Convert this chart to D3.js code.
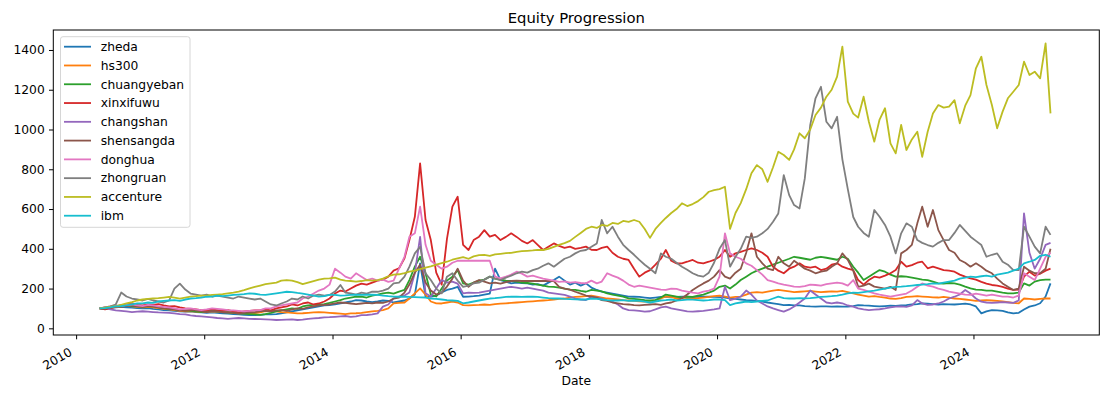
<!DOCTYPE html>
<html lang="en">
<head>
<meta charset="utf-8">
<title>Equity Progression</title>
<style>
  body { margin: 0; background: white; }
  svg { font-family: "DejaVu Sans", sans-serif; display: block; }
</style>
<script src="https://cdn.jsdelivr.net/npm/d3@7"></script>
</head>
<body>
<script>
// monthly values, May 2010 .. Mar 2025 (one row per year)
const seriesNames = ["zheda", "hs300", "chuangyeban", "xinxifuwu", "changshan",
                     "shensangda", "donghua", "zhongruan", "accenture", "ibm"]
const colors = ["#1f77b4", "#ff7f0e", "#2ca02c", "#d62728", "#9467bd",
                "#8c564b", "#e377c2", "#7f7f7f", "#bcbd22", "#17becf"]

const zheda = [
  100, 98, 102, 105, 108, 106, 104, 102,
  100, 102, 98, 95, 92, 90, 88, 85, 84, 86, 82, 80,
  78, 80, 78, 75, 74, 72, 70, 68, 67, 66, 68, 70,
  70, 72, 75, 80, 85, 90, 95, 100, 105, 110, 115, 117,
  120, 126, 130, 135, 142, 140, 135, 132, 135, 140, 138, 130,
  135, 140, 150, 170, 327, 159, 160, 165, 180, 193, 200, 209,
  159, 160, 162, 165, 170, 175, 300, 243, 235, 226, 230, 228,
  226, 220, 222, 215, 230, 243, 260, 240, 220, 230, 215, 226,
  205, 193, 185, 180, 175, 170, 165, 160, 159, 158, 155, 152,
  155, 158, 160, 159, 158, 160, 159, 157, 158, 159, 160, 158,
  157, 155, 151, 148, 145, 142, 140, 138, 135, 130, 126, 122,
  117, 118, 116, 115, 112, 110, 109, 110, 110, 109, 110, 109,
  109, 112, 117, 115, 114, 112, 110, 112, 114, 113, 115, 117,
  120, 122, 126, 124, 122, 120, 122, 121, 120, 122, 124, 120,
  110, 75, 85, 92, 90, 88, 80, 75, 78, 95, 109, 115,
  126, 160, 226
]
const hs300 = [
  100, 98, 102, 108, 110, 115, 110, 108,
  105, 108, 106, 102, 98, 95, 92, 88, 85, 86, 84, 82,
  84, 86, 84, 82, 80, 78, 76, 75, 74, 76, 80, 86,
  88, 86, 82, 80, 78, 75, 76, 78, 80, 82, 80, 78,
  76, 74, 72, 75, 76, 78, 82, 85, 88, 92, 100, 126,
  128, 130, 150, 176, 201, 170, 135, 126, 125, 130, 134, 130,
  117, 115, 117, 118, 120, 118, 122, 124, 126, 128, 130, 132,
  134, 136, 138, 140, 142, 145, 148, 150, 155, 158, 160, 162,
  165, 160, 155, 150, 148, 145, 142, 140, 138, 136, 134, 138,
  142, 150, 160, 158, 150, 155, 152, 150, 152, 155, 158, 162,
  165, 160, 155, 158, 160, 170, 180, 182, 180, 185, 190, 193,
  190, 186, 182, 184, 186, 188, 185, 182, 184, 186, 185, 188,
  182, 176, 170, 165, 160, 162, 158, 155, 150, 148, 152, 158,
  160, 162, 160, 158, 156, 155, 158, 155, 150, 148, 145, 142,
  138, 140, 142, 140, 138, 135, 132, 128, 126, 150, 148, 145,
  148, 150, 150
]
const chuangyeban = [
  100, 102, 108, 112, 115, 118, 112, 110,
  108, 112, 110, 105, 100, 98, 95, 92, 90, 88, 85, 82,
  85, 88, 86, 82, 80, 78, 75, 74, 72, 70, 68, 72,
  78, 85, 90, 95, 100, 98, 110, 115, 118, 120, 122, 128,
  135, 142, 150, 155, 159, 160, 155, 165, 170, 176, 180, 175,
  185, 193, 243, 310, 360, 277, 170, 160, 200, 240, 260, 293,
  226, 220, 230, 240, 245, 260, 250, 245, 240, 238, 235, 230,
  228, 225, 220, 215, 210, 209, 205, 200, 195, 193, 188, 184,
  193, 190, 186, 176, 170, 165, 160, 151, 148, 145, 142, 140,
  142, 155, 170, 165, 160, 155, 160, 158, 165, 170, 180, 190,
  209, 215, 200, 220, 243, 260, 277, 290, 300, 310, 320, 330,
  340, 350, 360, 355, 350, 345, 355, 360, 355, 350, 345, 360,
  350, 310, 280, 243, 260, 277, 293, 285, 270, 260, 262, 260,
  255, 250, 245, 243, 235, 226, 225, 228, 226, 220, 210, 201,
  195, 193, 190, 190, 185, 180, 176, 176, 180, 226, 215, 235,
  243, 245, 245
]
const xinxifuwu = [
  100, 95, 100, 110, 115, 120, 125, 118,
  115, 120, 118, 122, 115, 110, 112, 105, 100, 98, 95, 92,
  90, 95, 92, 88, 92, 85, 80, 85, 88, 90, 92, 95,
  90, 100, 105, 110, 120, 115, 125, 130, 120, 125, 135, 150,
  175, 190, 185, 200, 215, 225, 220, 230, 240, 245, 260, 290,
  302, 352, 444, 561, 830, 545, 444, 280, 220, 450, 612, 662,
  420, 394, 444, 461, 494, 461, 470, 444, 460, 478, 460, 440,
  427, 444, 420, 394, 410, 427, 415, 405, 411, 400, 405, 411,
  395, 394, 405, 411, 380, 360, 350, 344, 300, 260, 280, 293,
  320, 350, 394, 340, 327, 327, 335, 344, 330, 327, 335, 344,
  360, 394, 360, 377, 385, 394, 402, 394, 380, 360, 310, 290,
  277, 300, 310, 327, 310, 305, 310, 293, 300, 320, 327, 310,
  300, 293, 243, 220, 243, 260, 255, 265, 277, 293, 335, 310,
  318, 330, 335, 302, 310, 302, 293, 290, 285, 270, 260, 251,
  245, 234, 225, 218, 215, 209, 200, 193, 195, 260, 285, 265,
  275, 290, 300
]
const changshan = [
  100, 105, 95, 90, 88, 85, 82, 84,
  86, 84, 82, 80, 79, 78, 75, 72, 70, 65, 62, 60,
  58, 55, 52, 50, 48, 50, 52, 50, 48, 47, 46, 45,
  44, 42, 43, 44, 45, 42, 44, 48, 50, 52, 55, 56,
  58, 60, 62, 58, 60, 66, 67, 70, 75, 109, 120, 150,
  159, 165, 180, 277, 460, 176, 160, 200, 243, 230, 235, 225,
  176, 180, 178, 180, 185, 190, 195, 200, 205, 209, 205, 200,
  205, 200, 195, 190, 180, 176, 172, 168, 160, 150, 145, 142,
  159, 155, 150, 140, 134, 120, 100, 92, 90, 88, 84, 86,
  95, 105, 109, 100, 95, 90, 85, 84, 86, 88, 92, 95,
  100, 209, 142, 150, 160, 190, 170, 140, 125, 110, 100, 92,
  84, 95, 110, 130, 150, 190, 170, 150, 130, 126, 130, 126,
  115, 109, 100, 95, 92, 94, 96, 100, 105, 109, 110, 108,
  115, 142, 125, 118, 120, 125, 135, 150, 159, 170, 193, 175,
  150, 134, 130, 128, 130, 132, 130, 128, 140, 578, 380, 300,
  350, 420, 430
]
const shensangda = [
  100, 98, 105, 110, 108, 112, 115, 110,
  108, 112, 110, 105, 100, 98, 95, 90, 88, 92, 90, 85,
  82, 88, 85, 80, 82, 78, 75, 78, 80, 82, 85, 88,
  85, 90, 92, 88, 95, 100, 98, 105, 110, 115, 118, 120,
  125, 130, 128, 125, 122, 125, 128, 126, 130, 128, 135, 150,
  155, 180, 220, 280, 320, 230, 190, 170, 180, 210, 250, 300,
  240, 209, 230, 243, 235, 226, 230, 225, 232, 238, 240, 238,
  238, 238, 238, 238, 238, 238, 209, 200, 195, 184, 175, 165,
  159, 155, 142, 138, 130, 126, 122, 120, 117, 115, 118, 120,
  122, 118, 125, 130, 140, 151, 170, 193, 210, 226, 240, 260,
  293, 260, 250, 280, 300, 380, 478, 360, 327, 300, 293, 360,
  327, 310, 340, 320, 300, 290, 277, 285, 290, 310, 327, 377,
  344, 290, 209, 215, 225, 210, 205, 200, 209, 193, 377, 394,
  420, 528, 612, 511, 595, 494, 444, 394, 380, 344, 330, 310,
  327, 310, 290, 277, 250, 226, 209, 193, 200, 310, 290, 277,
  277, 300, 400
]
const donghua = [
  100, 105, 110, 115, 112, 118, 120, 115,
  112, 118, 115, 110, 108, 105, 100, 95, 98, 100, 95, 92,
  95, 100, 98, 95, 92, 90, 88, 85, 88, 90, 92, 100,
  100, 110, 115, 120, 125, 130, 150, 160, 175, 190, 200, 220,
  300, 280, 260, 250, 277, 260, 243, 250, 240, 245, 234, 240,
  300, 360, 461, 478, 612, 420, 340, 320, 300, 310, 330, 340,
  340, 340, 340, 340, 340, 340, 260, 251, 260, 270, 285, 275,
  260, 265, 258, 250, 245, 240, 234, 236, 230, 232, 228, 226,
  240, 226, 235, 277, 265, 255, 240, 220, 209, 215, 210, 205,
  200, 195, 193, 200, 198, 190, 185, 180, 176, 185, 190, 200,
  260, 478, 377, 360, 350, 327, 315, 293, 270, 243, 235, 226,
  220, 215, 210, 209, 212, 220, 218, 215, 222, 226, 230, 226,
  215, 243, 200, 193, 185, 176, 170, 165, 160, 165, 170, 175,
  190, 209, 226, 215, 210, 200, 193, 185, 180, 175, 170, 168,
  175, 170, 165, 170, 165, 160, 160, 155, 165, 277, 260, 243,
  300, 360, 380
]
const zhongruan = [
  100, 105, 110, 120, 180, 160, 150, 145,
  140, 148, 140, 135, 130, 140, 200, 225, 195, 175, 170, 165,
  170, 160, 165, 160, 155, 150, 160, 155, 150, 145, 150, 135,
  120, 115, 125, 135, 150, 145, 160, 150, 165, 170, 165, 168,
  185, 218, 180, 176, 170, 180, 175, 185, 184, 190, 200, 226,
  230, 260, 310, 377, 410, 277, 243, 200, 176, 260, 277, 240,
  209, 215, 226, 230, 245, 260, 250, 243, 255, 265, 277, 285,
  280, 293, 300, 315, 327, 310, 330, 350, 360, 377, 390, 394,
  410, 427, 545, 478, 511, 461, 420, 394, 370, 344, 320, 300,
  277, 377, 360, 350, 330, 310, 295, 277, 265, 260, 280, 330,
  400, 444, 310, 360, 400, 461, 455, 461, 478, 500, 536, 578,
  771, 670, 620, 603, 754, 1023, 1157, 1215, 1039, 1006, 1064, 850,
  700, 560, 511, 480, 461, 595, 561, 520, 461, 377, 478, 528,
  511, 444, 430, 419, 411, 430, 444, 444, 480, 520, 490, 461,
  440, 419, 360, 370, 377, 335, 320, 293, 293, 511, 461, 411,
  377, 511, 470
]
const accenture = [
  100, 104, 108, 112, 118, 125, 132, 140,
  145, 148, 150, 152, 155, 158, 155, 150, 155, 160, 162, 165,
  165, 168, 170, 172, 176, 180, 185, 192, 201, 208, 215, 222,
  226, 230, 240, 243, 240, 232, 222, 230, 238, 245, 250, 251,
  255, 245, 240, 238, 235, 238, 242, 240, 243, 250, 262, 270,
  272, 278, 285, 290, 298, 305, 312, 320, 328, 335, 345, 352,
  358, 350, 362, 368, 369, 365, 372, 375, 378, 380, 385, 388,
  390, 392, 395, 394, 400, 410, 420, 429, 440, 460, 480, 500,
  511, 505, 520, 515, 530, 525, 540, 535, 545, 536, 500, 455,
  500, 530, 555, 580, 600, 629, 615, 625, 640, 660, 687, 695,
  700, 712, 500, 580, 630, 700, 780, 821, 800, 737, 810, 888,
  872, 847, 900, 981, 956, 1000, 1073, 1110, 1165, 1200, 1266, 1417,
  1140, 1080, 1060, 1165, 1039, 939, 1050, 1107, 930, 880, 1023, 897,
  950, 989, 863, 989, 1080, 1123, 1110, 1115, 1148, 1031, 1120, 1173,
  1308, 1366, 1224, 1123, 1006, 1090, 1157, 1190, 1224, 1341, 1274, 1291,
  1257, 1433, 1081
]
const ibm = [
  100, 102, 105, 110, 112, 115, 120, 125,
  126, 130, 128, 135, 138, 140, 142, 138, 145, 150, 152, 155,
  159, 160, 165, 162, 165, 168, 170, 172, 176, 174, 170, 168,
  172, 176, 180, 184, 182, 178, 175, 170, 165, 160, 162, 168,
  168, 165, 166, 168, 170, 168, 170, 169, 168, 165, 162, 160,
  159, 160, 158, 157, 156, 155, 150, 148, 145, 142, 140, 138,
  126, 130, 135, 140, 145, 150, 152, 155, 158, 159, 160, 158,
  159, 160, 158, 155, 152, 150, 150, 148, 147, 146, 145, 145,
  150, 148, 145, 142, 140, 140, 142, 138, 140, 138, 134, 130,
  135, 140, 142, 145, 140, 142, 145, 144, 142, 140, 142, 145,
  145, 142, 117, 125, 130, 135, 132, 135, 138, 140, 150, 159,
  152, 150, 150, 152, 151, 152, 155, 158, 160, 162, 165, 170,
  176, 180, 178, 182, 186, 190, 195, 200, 205, 209, 210, 212,
  215, 218, 220, 222, 226, 225, 230, 235, 240, 250, 255, 260,
  258, 262, 265, 260, 270, 275, 280, 290, 300, 327, 335, 344,
  365, 370, 360
]
const seriesValues = [zheda, hs300, chuangyeban, xinxifuwu, changshan,
                      shensangda, donghua, zhongruan, accenture, ibm]

const yTicks = [0, 200, 400, 600, 800, 1000, 1200, 1400]
const xTickYears = [2010, 2012, 2014, 2016, 2018, 2020, 2022, 2024]

let width = 1112
let height = 394
let plot = {left: 53.3, right: 1099.3, top: 30, bottom: 335}

// mid-month dates for every value
let months = d3.timeMonth.range(new Date(2010, 4, 1), new Date(2025, 3, 1))
                .map(d => d3.timeDay.offset(d, 14))

let svg = d3.select("body").append("svg")
            .attr("width", width)
            .attr("height", height)

let x = d3.scaleTime()
          .domain([new Date(2009, 7, 24), new Date(2025, 11, 18)])
          .range([plot.left, plot.right])

let y = d3.scaleLinear()
          .domain([-33.5, 1500.5])
          .range([plot.bottom, plot.top])

// lines
let line = d3.line()
             .x((d, i) => x(months[i]))
             .y(d => y(d))

svg.append("g")
   .selectAll("path")
   .data(seriesValues)
   .enter()
   .append("path")
   .attr("d", d => line(d))
   .attr("fill", "none")
   .attr("stroke", (d, i) => colors[i])
   .attr("stroke-width", 1.8)
   .attr("stroke-linejoin", "round")

// y axis
let yAxis = svg.append("g")
               .attr("transform", `translate(${plot.left}, 0)`)
               .call(d3.axisLeft(y)
                       .tickValues(yTicks)
                       .tickFormat(d3.format("d"))
                       .tickSize(4.3)
                       .tickPadding(4.3))
yAxis.select(".domain").remove()
yAxis.selectAll("text").attr("font-size", 12.3).attr("fill", "#000").attr("font-family", "DejaVu Sans")
yAxis.selectAll("line").attr("stroke", "#000").attr("stroke-width", 1)

// x axis with slanted year labels
let xAxis = svg.append("g")
               .attr("transform", `translate(0, ${plot.bottom})`)
               .call(d3.axisBottom(x)
                       .tickValues(xTickYears.map(yr => new Date(yr, 0, 1)))
                       .tickFormat(d3.timeFormat("%Y"))
                       .tickSize(4.3))
xAxis.select(".domain").remove()
xAxis.selectAll("line").attr("stroke", "#000").attr("stroke-width", 1)
xAxis.selectAll("text")
     .attr("font-size", 12.3)
     .attr("fill", "#000")
     .attr("font-family", "DejaVu Sans")
     .attr("y", 0)
     .attr("dy", 0)
     .attr("text-anchor", "end")
     .attr("transform", "translate(-3.5, 19.5) rotate(-30)")

// frame
svg.append("rect")
   .attr("x", plot.left)
   .attr("y", plot.top)
   .attr("width", plot.right - plot.left)
   .attr("height", plot.bottom - plot.top)
   .attr("fill", "none")
   .attr("stroke", "#000")
   .attr("stroke-width", 1)

svg.append("text")
   .attr("x", (plot.left + plot.right) / 2)
   .attr("y", 22.5)
   .attr("text-anchor", "middle")
   .attr("font-size", 14.8)
   .text("Equity Progression")

svg.append("text")
   .attr("x", (plot.left + plot.right) / 2)
   .attr("y", 385)
   .attr("text-anchor", "middle")
   .attr("font-size", 12.3)
   .text("Date")

// legend
let legend = svg.append("g")
legend.append("rect")
      .attr("x", 60.5)
      .attr("y", 36.7)
      .attr("width", 129.5)
      .attr("height", 190.6)
      .attr("rx", 2.5)
      .attr("fill", "white")
      .attr("fill-opacity", 0.8)
      .attr("stroke", "#d6d6d6")
      .attr("stroke-width", 1)

let entry = legend.selectAll(".entry")
                  .data(seriesNames)
                  .enter()
                  .append("g")
                  .attr("transform", (d, i) => `translate(0, ${46.7 + i * 18.78})`)
entry.append("line")
     .attr("x1", 64)
     .attr("x2", 91)
     .attr("stroke", (d, i) => colors[i])
     .attr("stroke-width", 1.8)
entry.append("text")
     .attr("x", 100.7)
     .attr("dy", "0.35em")
     .attr("font-size", 12.3)
     .text(d => d)
</script>
</body>
</html>
